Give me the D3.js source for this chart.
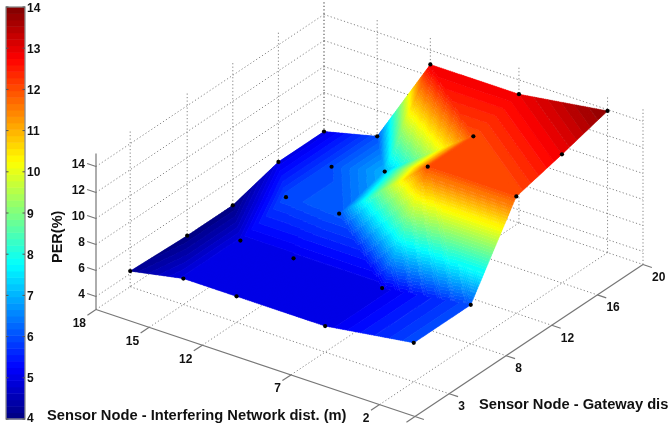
<!DOCTYPE html>
<html>
<head>
<meta charset="utf-8">
<script src="https://cdn.jsdelivr.net/npm/d3@7"></script>
<style>
  html, body { margin: 0; padding: 0; background: #fff; overflow: hidden; }
  svg { display: block; filter: blur(0.4px); }
  text { font-family: "Liberation Sans", Arial, sans-serif; font-weight: bold; fill: #111; }
</style>
</head>
<body>
<svg id="chart" width="669" height="424"></svg>
<script>
const xValues = [18, 15, 12, 7, 2];
const yValues = [3, 8, 12, 16, 20];
// PER(%) per row of yValues, columns follow xValues
const perValues = [
  [4.2, 5, 5, 5, 6],
  [4, 5, 5, 5, 6],
  [4, 6, 6.1, 12, 12],
  [5, 6, 7, 12, 12.9],
  [5, 6, 12.9, 12.9, 13.9],
];
const xTicks = [18, 15, 12, 7, 2];
const yTicks = [3, 8, 12, 16, 20];
const zTicks = [4, 6, 8, 10, 12, 14];
const barTicks = [4, 5, 6, 7, 8, 9, 10, 11, 12, 13, 14];

const svg = d3.select('#chart');

// oblique projection: each data axis gets a horizontal and a vertical screen offset
const xToPx = d3.scaleLinear().domain([0, 18]).range([0, -319]);
const xToPy = d3.scaleLinear().domain([0, 18]).range([0, -107]);
const yToPx = d3.scaleLinear().domain([0, 20]).range([0, 228]);
const yToPy = d3.scaleLinear().domain([0, 20]).range([0, -152]);
const zToPy = d3.scaleLinear().domain([3, 15]).range([0, -156]);
const origin = [415, 416.5];

function project(x, y, z) {
  return [
    origin[0] + xToPx(x) + yToPx(y),
    origin[1] + xToPy(x) + yToPy(y) + zToPy(z),
  ];
}

const line = d3.line();
const closedLine = d3.line().curve(d3.curveLinearClosed);

// jet colormap, 64 levels like the matlab default
function jet(t) {
  const c = (v) => Math.round(255 * Math.max(0, Math.min(1, 1.5 - Math.abs(4 * t - v))));
  return `rgb(${c(3)},${c(2)},${c(1)})`;
}
const jetColors = d3.range(64).map((i) => jet((i + 0.5) / 64));
const color = d3.scaleQuantize().domain([4, 14]).range(jetColors);

// grid
const grid = svg.append('g')
  .attr('fill', 'none')
  .attr('stroke', '#777')
  .attr('stroke-width', 0.9)
  .attr('stroke-dasharray', '1.2 2.3');

function gridLine(a, b) {
  grid.append('path').attr('d', line([project(...a), project(...b)]));
}

zTicks.forEach((z) => {
  gridLine([18, 0, z], [18, 20, z]);
  gridLine([18, 20, z], [0, 20, z]);
});
xTicks.forEach((x) => {
  gridLine([x, 0, 3], [x, 20, 3]);
  gridLine([x, 20, 3], [x, 20, 15]);
});
gridLine([0, 20, 3], [0, 20, 15]);
yTicks.forEach((y) => {
  gridLine([18, y, 3], [0, y, 3]);
  gridLine([18, y, 3], [18, y, 15]);
});

// surface: each cell is two flat triangles split on the same diagonal, gouraud style.
// small triangles are collected per colour so there is one path for each of the 64 levels
const steps = 40;
const pathByColor = new Map(jetColors.map((c) => [c, []]));

function cellZ(row, col, u, v) {
  const a = perValues[row][col];
  const b = perValues[row][col + 1];
  const c = perValues[row + 1][col];
  const d = perValues[row + 1][col + 1];
  if (u + v <= 1) return a + (b - a) * u + (c - a) * v;
  return d + (c - d) * (1 - u) + (b - d) * (1 - v);
}

function cellPoint(row, col, u, v, z) {
  const x = xValues[col] + (xValues[col + 1] - xValues[col]) * u;
  const y = yValues[row] + (yValues[row + 1] - yValues[row]) * v;
  return project(x, y, z);
}

function addTriangle(row, col, corners) {
  const u = d3.mean(corners, (p) => p[0]);
  const v = d3.mean(corners, (p) => p[1]);
  const points = corners.map(([cu, cv]) => {
    const z = cellZ(row, col, cu, cv);
    return cellPoint(row, col, cu, cv, z);
  });
  pathByColor.get(color(cellZ(row, col, u, v))).push(closedLine(points));
}

for (let row = 0; row < yValues.length - 1; row++) {
  for (let col = 0; col < xValues.length - 1; col++) {
    for (let j = 0; j < steps; j++) {
      for (let i = 0; i < steps; i++) {
        const u0 = i / steps;
        const u1 = (i + 1) / steps;
        const v0 = j / steps;
        const v1 = (j + 1) / steps;
        addTriangle(row, col, [[u0, v0], [u1, v0], [u0, v1]]);
        addTriangle(row, col, [[u1, v0], [u1, v1], [u0, v1]]);
      }
    }
  }
}

svg.append('g')
  .selectAll('path')
  .data(jetColors.filter((c) => pathByColor.get(c).length))
  .join('path')
  .attr('d', (c) => pathByColor.get(c).join(''))
  .attr('fill', (c) => c)
  .attr('stroke', (c) => c)
  .attr('stroke-width', 0.4);

// data markers
yValues.forEach((y, row) => {
  xValues.forEach((x, col) => {
    const [px, py] = project(x, y, perValues[row][col]);
    svg.append('circle').attr('cx', px).attr('cy', py).attr('r', 2.1).attr('fill', '#000');
  });
});

// axes
const axes = svg.append('g').attr('fill', 'none').attr('stroke', '#777').attr('stroke-width', 1.2);
function axisLine(a, b) {
  axes.append('path').attr('d', line([project(...a), project(...b)]));
}
axisLine([18, 0, 3], [18, 0, 15]);
axisLine([18, 0, 3], [0, 0, 3]);
axisLine([0, 0, 3], [0, 20, 3]);

zTicks.forEach((z) => axisLine([18, 0, z], [18.5, 0, z]));
xTicks.concat(0).forEach((x) => axisLine([x, 0, 3], [x, -0.75, 3]));
yTicks.concat(0).forEach((y) => axisLine([0, y, 3], [-0.5, y, 3]));

const labels = svg.append('g').attr('font-size', 12);

zTicks.forEach((z) => {
  const [px, py] = project(18, 0, z);
  labels.append('text').attr('x', px - 11).attr('y', py + 1).attr('text-anchor', 'end').text(z);
});
xTicks.forEach((x) => {
  const [px, py] = project(x, 0, 3);
  labels.append('text').attr('x', px - 10).attr('y', py + 17.5).attr('text-anchor', 'end').text(x);
});
yTicks.forEach((y) => {
  const [px, py] = project(0, y, 3);
  labels.append('text').attr('x', px + 9).attr('y', py + 16.5).text(y);
});

labels.append('text')
  .attr('transform', 'translate(62,263) rotate(-90)')
  .attr('font-size', 14.5)
  .text('PER(%)');
labels.append('text')
  .attr('x', 47).attr('y', 420)
  .attr('font-size', 14.7)
  .text('Sensor Node - Interfering Network dist. (m)');
labels.append('text')
  .attr('x', 479).attr('y', 409)
  .attr('font-size', 14.7)
  .text('Sensor Node - Gateway dis');

// colour bar
const barX = 6;
const barWidth = 19;
const barScale = d3.scaleLinear().domain([4, 14]).range([419, 7]);
const bar = svg.append('g');
jetColors.forEach((c, i) => {
  const lo = 4 + (i * 10) / 64;
  const hi = 4 + ((i + 1) * 10) / 64;
  bar.append('rect')
    .attr('x', barX)
    .attr('y', barScale(hi))
    .attr('width', barWidth)
    .attr('height', barScale(lo) - barScale(hi) + 0.5)
    .attr('fill', c);
});
bar.append('rect')
  .attr('x', barX)
  .attr('y', barScale(14))
  .attr('width', barWidth)
  .attr('height', barScale(4) - barScale(14))
  .attr('fill', 'none')
  .attr('stroke', '#8c8c8c')
  .attr('stroke-width', 1.3);
barTicks.forEach((t) => {
  const py = barScale(t);
  bar.append('path').attr('d', `M${barX},${py}h2.5M${barX + barWidth},${py}h-2.5`).attr('stroke', '#555');
  bar.append('text')
    .attr('x', barX + barWidth + 2)
    .attr('y', Math.min(py + 4.5, 422))
    .attr('font-size', 12)
    .text(t);
});
</script>
</body>
</html>
